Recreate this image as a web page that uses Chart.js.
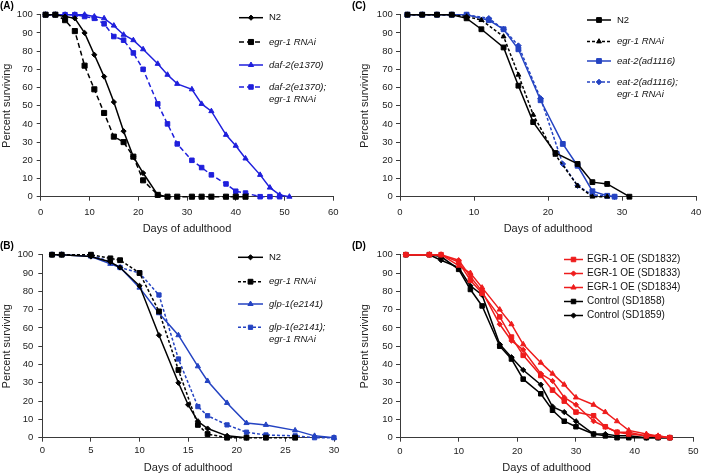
<!DOCTYPE html>
<html><head><meta charset="utf-8">
<script src="https://cdn.jsdelivr.net/npm/chart.js@4.4.1/dist/chart.umd.min.js"></script>
<style>
html,body{margin:0;padding:0;background:#fff;}
body{width:701px;height:475px;position:relative;overflow:hidden;}
canvas{position:absolute;}
</style></head><body>
<canvas id="cA" width="350" height="240" style="left:0;top:0"></canvas>
<canvas id="cC" width="351" height="240" style="left:350px;top:0"></canvas>
<canvas id="cB" width="350" height="235" style="left:0;top:240px"></canvas>
<canvas id="cD" width="351" height="235" style="left:350px;top:240px"></canvas>
<script>
// ---------- Panel A ----------
const labelsA = ['N2', 'egr-1 RNAi', 'daf-2(e1370)', 'daf-2(e1370);\negr-1 RNAi'];
const daysA = [1,3,5,7,9,11,13,15,17,19,21,24,26,28,31,33,35,38,40,42,45,47,49,51];
const a_N2 = [100,100,99,98,90,78,66,52,36,22,13,1,0];
const a_egr1 = [100,100,97,91,72,59,46,33,30,22,9,1,0,0,0,0,0,0,0,0];
const a_daf2 = [100,100,100,100,100,99,98,94,89,86,81,73,67,62,59,51,47,34,28,21,12,5,1,0];
const a_daf2egr1 = [100,100,100,100,99,98,95,88,86,79,70,51,40,29,20,16,12,7,3,2,0,0,0];

// ---------- Panel B ----------
const labelsB = ['N2', 'egr-1 RNAi', 'glp-1(e2141)', 'glp-1(e2141);\negr-1 RNAi'];
const daysB_N2 = [1,2,5,7,8,10,12,14,15,16,17,19,21];
const daysB = [1,2,5,7,8,10,12,14,16,17,19,21,23,26,28,30];
const b_N2 = [100,100,99,96,93,83,56,30,18,9,5,1,0];
const b_egr1 = [100,100,100,98,97,90,69,37,7,2,0,0,0,0];
const b_glp1 = [100,100,99,95,93,82,68,56,39,31,19,8,7,4,1,0];
const b_glp1egr1 = [100,100,100,96,93,90,78,43,17,12,7,3,1.5,1,0,0];

// ---------- Panel C ----------
const labelsC = ['N2', 'egr-1 RNAi', 'eat-2(ad1116)', 'eat-2(ad1116);\negr-1 RNAi'];
const daysC_N2 = [1,3,5,7,9,11,14,16,18,21,24,26,28,31];
const daysC_egr1 = [1,3,5,7,9,11,14,16,18,21,24,26,28];
const daysC_eat2 = [1,3,5,7,9,12,14,16,19,22,24,26,28,29];
const daysC_eat2egr1 = [1,3,5,7,9,12,14,16,19,22,24,26,29];
const c_N2 = [100,100,100,100,98,92,82,61,41,24,18,8,7,0];
const c_egr1 = [100,100,100,100,99,97,88,67,45,23,6,0,0];
const c_eat2 = [100,100,100,100,100,97,92,81,53,29,17,3,0.5,0];
const c_eat2egr1 = [100,100,100,100,100,98,92,83,54,18,6,1,0];

// ---------- Panel D ----------
const labelsD = ['EGR-1 OE (SD1832)', 'EGR-1 OE (SD1833)', 'EGR-1 OE (SD1834)', 'Control (SD1858)', 'Control (SD1859)'];
const daysD = [1,5,7,10,12,14,17,19,21,24,26,28,30,33,35,37,39,42,44,46];
const d_SD1832 = [100,100,100,96,86,79,66,55,45,34,26,20,14,12,6,3,2,1,0.5,0];
const d_SD1833 = [100,100,100,97,88,80,62,53,48,35,31,22,18,9,6,3,3,1,1,0];
const d_SD1834 = [100,100,100,94,90,82,70,62,51,41,35,29,22,18,14,9,4,2,1,0];
const d_SD1858 = [100,100,99,92,81,72,50,43,32,24,15,9,6,2,1,0,0,0,0,0];
const d_SD1859 = [100,100,97,93,83,78,51,44,37,29,17,14,9,2,2,1,1,0,0,0];

const FONT = '"Liberation Sans", Arial, Helvetica, sans-serif';
Chart.defaults.font.family = FONT;

const BLACK = '#000000';
const BLUE_A = '#1f1fdc';
const BLUE_BC = '#2443c2';
const RED = '#ee1c1c';
const AXIS = '#3a3a3a';

function pts(days, vals){ return vals.map((v,i)=>({x: days[i], y: v})); }

function ds(label, days, vals, color, style, radius, dash){
  return {
    label, data: pts(days, vals),
    borderColor: color, backgroundColor: color,
    pointBackgroundColor: color, pointBorderColor: color,
    borderWidth: 1.5, pointBorderWidth: 1,
    pointStyle: style, pointRadius: radius, pointHoverRadius: radius,
    borderDash: dash || [], tension: 0, fill: false, clip: false
  };
}

const extras = {
  id: 'extras',
  afterDraw(chart, args, o){
    const ctx = chart.ctx;
    ctx.save();
    ctx.font = 'bold 10px ' + FONT;
    ctx.fillStyle = '#000'; ctx.textBaseline = 'middle'; ctx.textAlign = 'left';
    ctx.fillText(o.panel, o.panelX, o.panelY);
    chart.data.datasets.forEach((d, i) => {
      const y = o.ys[i];
      ctx.save();
      ctx.strokeStyle = d.borderColor; ctx.lineWidth = d.borderWidth;
      ctx.setLineDash(d.borderDash || []);
      ctx.beginPath(); ctx.moveTo(o.x0, y); ctx.lineTo(o.x1, y); ctx.stroke();
      ctx.setLineDash([]);
      ctx.fillStyle = d.pointBackgroundColor; ctx.strokeStyle = d.pointBorderColor; ctx.lineWidth = 1;
      Chart.helpers.drawPoint(ctx, {pointStyle: d.pointStyle, radius: d.pointRadius, rotation: 0, borderWidth: 1}, (o.x0 + o.x1) / 2, y);
      ctx.restore();
      const italic = o.italic && d.label !== 'N2';
      ctx.font = (italic ? 'italic ' : '') + o.fs + 'px ' + FONT;
      ctx.fillStyle = '#111';
      d.label.split('\n').forEach((t, j) => ctx.fillText(t, o.tx, y + j * o.lh));
    });
    ctx.restore();
  }
};

function makeChart(id, W, H, area, xcfg, tp, datasets, ex){
  const tickFont = {size: 9.5, family: FONT};
  new Chart(document.getElementById(id), {
    type: 'line',
    data: {datasets},
    plugins: [extras],
    options: {
      responsive: false, animation: false, devicePixelRatio: 1,
      layout: {padding: {left: 0, top: area.top, right: W - area.right, bottom: 0}},
      plugins: {legend: {display: false}, tooltip: {enabled: false}, extras: ex},
      scales: {
        x: {
          type: 'linear', min: xcfg.min, max: xcfg.max,
          ticks: {stepSize: xcfg.step, padding: tp.xpad, color: '#222', font: tickFont, maxRotation: 0, autoSkip: false},
          grid: {display: true, drawOnChartArea: false, drawTicks: true, tickLength: 4, color: AXIS, lineWidth: 1},
          border: {display: true, color: AXIS, width: 1},
          title: {display: true, text: 'Days of adulthood', color: '#222', font: {size: 11, family: FONT}, padding: {top: 0, bottom: tp.xtpad}},
          afterFit: s => { s.height = H - area.bottom; s.paddingLeft = 0; s.paddingRight = 0; }
        },
        y: {
          type: 'linear', min: 0, max: 100,
          ticks: {stepSize: 10, padding: tp.ypad, color: '#222', font: tickFont},
          grid: {display: true, drawOnChartArea: false, drawTicks: true, tickLength: 4, color: AXIS, lineWidth: 1},
          border: {display: true, color: AXIS, width: 1},
          title: {display: true, text: 'Percent surviving', color: '#222', font: {size: 11, family: FONT}, padding: {top: tp.ytpad, bottom: 0}},
          afterFit: s => { s.width = area.left; s.paddingTop = 0; s.paddingBottom = 0; }
        }
      }
    }
  });
}

// Panel A
makeChart('cA', 350, 240, {left: 40.7, right: 333.3, top: 14.7, bottom: 196.7},
  {min: 0, max: 60, step: 10}, {xpad: 5.6, xtpad: 4.4, ypad: 4, ytpad: 0.4},
  [
    ds(labelsA[0], daysA, a_N2, BLACK, 'rectRot', 2.6),
    ds(labelsA[1], daysA, a_egr1, BLACK, 'rect', 3.6, [5, 3]),
    ds(labelsA[2], daysA, a_daf2, BLUE_A, 'triangle', 3),
    ds(labelsA[3], daysA, a_daf2egr1, BLUE_A, 'rect', 3.2, [5, 3])
  ],
  {panel: '(A)', panelX: 0, panelY: 6, ys: [17.7, 42, 65, 87], x0: 239, x1: 263, tx: 269, fs: 9.5, lh: 12.5, italic: true});

// Panel C
makeChart('cC', 351, 240, {left: 50, right: 346, top: 14.7, bottom: 196.7},
  {min: 0, max: 40, step: 10}, {xpad: 5.9, xtpad: 4.4, ypad: 3.3, ytpad: 8.4},
  [
    ds(labelsC[0], daysC_N2, c_N2, BLACK, 'rect', 3.4),
    ds(labelsC[1], daysC_egr1, c_egr1, BLACK, 'triangle', 2.8, [3, 2]),
    ds(labelsC[2], daysC_eat2, c_eat2, BLUE_BC, 'rect', 3.4),
    ds(labelsC[3], daysC_eat2egr1, c_eat2egr1, BLUE_BC, 'rectRot', 2.8, [3, 2])
  ],
  {panel: '(C)', panelX: 2, panelY: 6, ys: [20, 41.5, 61, 82], x0: 237, x1: 261, tx: 267, fs: 9.5, lh: 12.5, italic: true});

// Panel B
makeChart('cB', 350, 235, {left: 42.3, right: 334, top: 14.7, bottom: 197.7},
  {min: 0, max: 30, step: 5}, {xpad: 3.3, xtpad: 0.7, ypad: 5, ytpad: 0.4},
  [
    ds(labelsB[0], daysB_N2, b_N2, BLACK, 'rectRot', 2.6),
    ds(labelsB[1], daysB, b_egr1, BLACK, 'rect', 3.4, [3, 2]),
    ds(labelsB[2], daysB, b_glp1, BLUE_BC, 'triangle', 3),
    ds(labelsB[3], daysB, b_glp1egr1, BLUE_BC, 'rect', 3, [3, 2])
  ],
  {panel: '(B)', panelX: 0, panelY: 6, ys: [17.3, 41.7, 64, 87.3], x0: 238, x1: 263, tx: 269, fs: 9.5, lh: 12, italic: true});

// Panel D
makeChart('cD', 351, 235, {left: 50, right: 343.3, top: 14.7, bottom: 197.7},
  {min: 0, max: 50, step: 10}, {xpad: 3.6, xtpad: 0.7, ypad: 3.3, ytpad: 8.4},
  [
    ds(labelsD[0], daysD, d_SD1832, RED, 'rect', 3.2),
    ds(labelsD[1], daysD, d_SD1833, RED, 'rectRot', 2.6),
    ds(labelsD[2], daysD, d_SD1834, RED, 'triangle', 3),
    ds(labelsD[3], daysD, d_SD1858, BLACK, 'rect', 3.2),
    ds(labelsD[4], daysD, d_SD1859, BLACK, 'rectRot', 2.6)
  ],
  {panel: '(D)', panelX: 2, panelY: 6, ys: [19.5, 33.5, 47.5, 61.5, 75.5], x0: 214, x1: 233, tx: 237, fs: 10, lh: 12, italic: false});
</script>
</body></html>
